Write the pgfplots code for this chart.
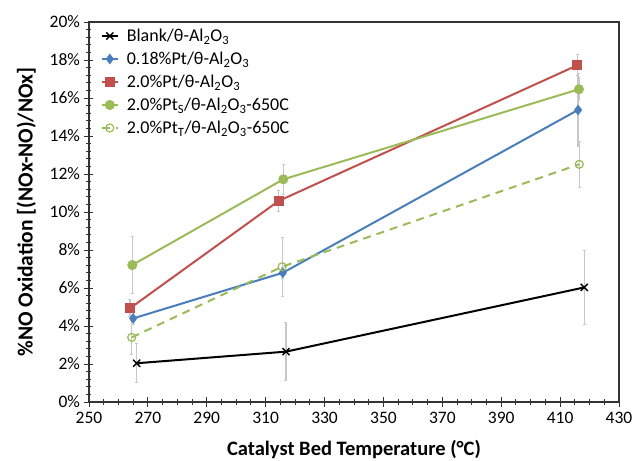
\documentclass[border=0pt]{standalone}
\usepackage{fontspec}
\setmainfont{Carlito}
\usepackage{pgfplots}
\pgfplotsset{compat=1.18}
\definecolor{cblue}{HTML}{4A7EBB}
\definecolor{cred}{HTML}{C0504D}
\definecolor{cgreen}{HTML}{9BBB59}
\definecolor{cerr}{HTML}{C8C8C8}
\newcommand{\AlO}{Al\textsubscript{2}O\textsubscript{3}}
\begin{document}
\begin{tikzpicture}
\begin{axis}[
  scale only axis,
  width=530pt, height=380pt,
  at={(0,0)}, anchor=south west,
  xmin=250, xmax=430, ymin=0, ymax=20,
  xtick={250,270,...,430},
  ytick={0,2,...,20},
  minor x tick num=3,
  minor y tick num=4,
  xtick pos=bottom, ytick pos=left,
  tick align=center,
  major tick length=9pt,
  minor tick length=5pt,
  every tick/.style={black!80, line width=0.9pt},
  axis line style={black!80, line width=1.4pt},
  /pgf/number format/assume math mode=true,
  /pgf/number format/1000 sep={},
  yticklabel={\pgfmathprintnumber{\tick}\%},
  tick label style={font=\fontsize{17.5}{20}\selectfont},
  xticklabel style={yshift=-2pt},
  yticklabel style={xshift=-1pt},
  xlabel={\bfseries Catalyst Bed Temperature (°C)},
  ylabel={\bfseries \%NO Oxidation [(NOx-NO)/NOx]},
  xlabel style={font=\fontsize{20.5}{24}\selectfont, yshift=-10pt},
  ylabel style={font=\fontsize{21.5}{25}\selectfont, yshift=7pt},
  legend style={at={(0.02,0.99)}, anchor=north west, draw=none, fill=none,
    font=\fontsize{18}{21}\selectfont, row sep=5pt, inner sep=1pt},
  legend cell align=left,
  legend image code/.code={\draw[mark repeat=2,mark phase=2,#1] plot coordinates {(0pt,0pt) (8pt,0pt) (16pt,0pt)}; \path (22pt,0pt);},
  error bars/y dir=both, error bars/y explicit,
  error bars/error bar style={cerr, line width=1.2pt, solid},
  error bars/error mark options={rotate=90, cerr, mark size=1.5pt, line width=0.8pt},
]
\addplot[black, line width=2pt, mark=x, mark size=5pt, mark options={solid, line width=1.4pt}]
  coordinates {(266.2,2.04) +- (0,1.03) (316.9,2.65) +- (0,1.53) (418.2,6.03) +- (0,1.93)};
\addlegendentry{Blank/θ-\AlO}
\addplot[cblue, line width=2pt, mark=diamond*, mark size=3.8pt, mark options={solid}]
  coordinates {(265,4.40) +- (0,0.3) (315.8,6.80) +- (0,0.3) (416.1,15.37) +- (0,1.9)};
\addlegendentry{0.18\%Pt/θ-\AlO}
\addplot[cred, line width=2pt, mark=square*, mark size=4pt, mark options={solid}]
  coordinates {(263.9,4.93) +- (0,0.45) (314.4,10.58) +- (0,0.57) (415.8,17.72) +- (0,0.55)};
\addlegendentry{2.0\%Pt/θ-\AlO}
\addplot[cgreen, line width=2pt, mark=*, mark size=4pt, mark options={solid}]
  coordinates {(264.7,7.21) +- (0,1.5) (316,11.72) +- (0,0.8) (416.4,16.46) +- (0,0.6)};
\addlegendentry{2.0\%Pt\textsubscript{S}/θ-\AlO-650C}
\addplot[cgreen, line width=2pt, dash pattern=on 8pt off 6pt, mark=o, mark size=4pt, mark options={solid, line width=1.2pt, fill=white}]
  coordinates {(264.5,3.40) +- (0,0.9) (315.6,7.12) +- (0,1.55) (416.5,12.51) +- (0,1.2)};
\addlegendentry{2.0\%Pt\textsubscript{T}/θ-\AlO-650C}
\end{axis}
\pgfresetboundingbox
\path[use as bounding box] (-89pt,-59pt) rectangle (544pt,402pt);
\end{tikzpicture}
\end{document}
